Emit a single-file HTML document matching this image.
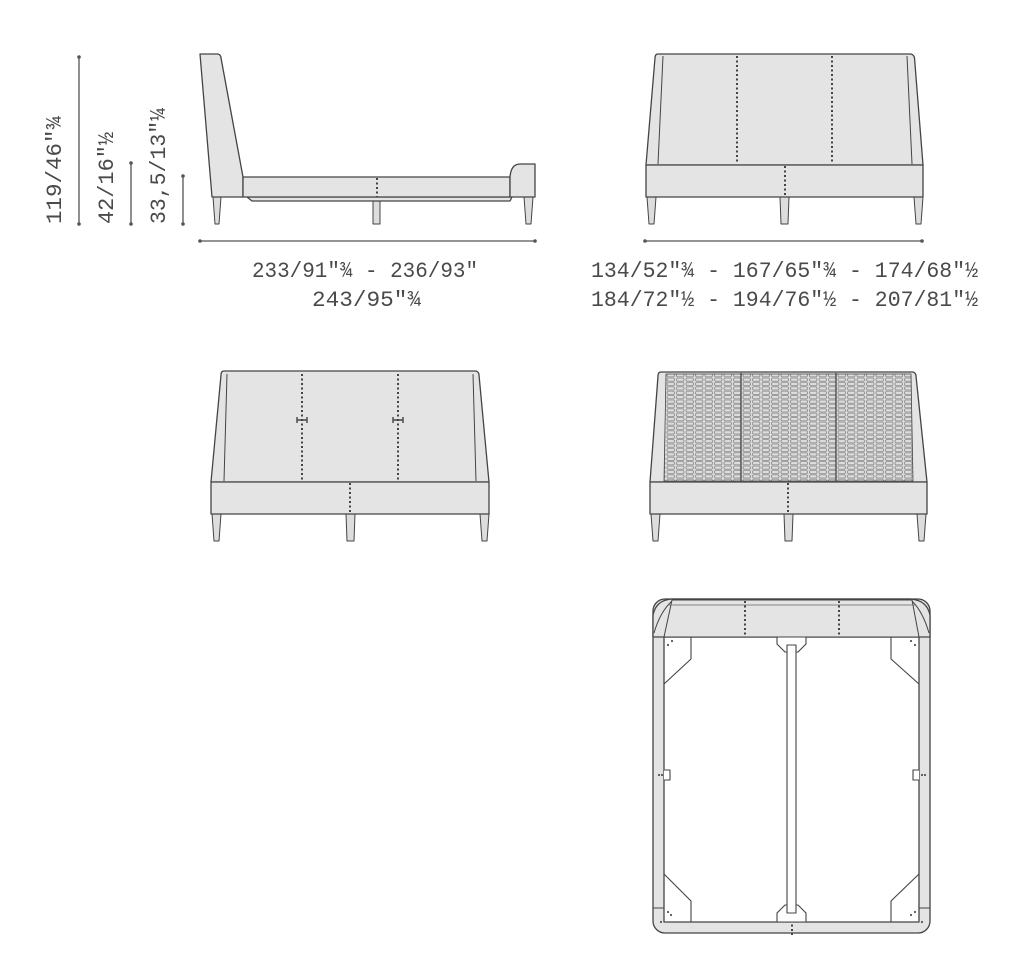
<!DOCTYPE html>
<html><head><meta charset="utf-8"><style>
html,body{margin:0;padding:0;background:#fff;}
svg{display:block;}
text{font-family:"Liberation Mono","DejaVu Sans Mono",monospace;fill:#4a4a4a;font-size:22px;}
</style></head><body>
<svg width="1024" height="978" viewBox="0 0 1024 978" xmlns="http://www.w3.org/2000/svg">
<defs>
<pattern id="mesh" x="666" y="373" width="9.5" height="4.4" patternUnits="userSpaceOnUse">
<rect width="9.5" height="4.4" fill="#dcdcdc"/>
<rect x="1" y="0.6" width="7.5" height="3.2" rx="1.5" fill="none" stroke="#888" stroke-width="0.8"/>
</pattern>
</defs>
<g stroke="#444" stroke-width="1.3" fill="#e4e4e4" stroke-linejoin="round">

<!-- ===== Side view ===== -->
<line x1="79" y1="57" x2="79" y2="224" stroke="#555" fill="none"/>
<circle cx="79" cy="57" r="1.8" fill="#555" stroke="none"/><circle cx="79" cy="224" r="1.8" fill="#555" stroke="none"/>
<line x1="131" y1="163" x2="131" y2="224" stroke="#555"/>
<circle cx="131" cy="163" r="1.8" fill="#555" stroke="none"/><circle cx="131" cy="224" r="1.8" fill="#555" stroke="none"/>
<line x1="183" y1="176" x2="183" y2="224" stroke="#555"/>
<circle cx="183" cy="176" r="1.8" fill="#555" stroke="none"/><circle cx="183" cy="224" r="1.8" fill="#555" stroke="none"/>
<line x1="200" y1="241" x2="535" y2="241" stroke="#555"/>
<circle cx="200" cy="241" r="1.8" fill="#555" stroke="none"/><circle cx="535" cy="241" r="1.8" fill="#555" stroke="none"/>

<g fill="#ddd" stroke-width="1">
<path d="M213 197 L221 197 L219 224 L215 224 Z"/>
<path d="M373 201 L380 201 L380 224 L373 224 Z"/>
<path d="M524 197 L533 197 L531 224 L526 224 Z"/>
</g>
<path d="M247 197 L512 197 L510 201 L252 201 Z"/>
<path d="M200 54 L218 54 Q221 55 221 58 L243 177 L243 197 L212 197 Z"/>
<rect x="243" y="177" width="267" height="20"/>
<path d="M510 177 Q511 164 520 164 L535 164 L535 197 L510 197 Z"/>
<line x1="377" y1="178" x2="377" y2="197" stroke-dasharray="2,2.5" stroke-width="2"/>

<!-- ===== Front view (top right) ===== -->
<g fill="#ddd" stroke-width="1">
<path d="M647 197 L656 197 L654 224 L649 224 Z"/>
<path d="M780 197 L789 197 L788 224 L781 224 Z"/>
<path d="M914 197 L923 197 L921 224 L916 224 Z"/>
</g>
<path d="M658 54 L911 54 Q914 55 914.5 58 L923 165 L646 165 L655 58 Q655 54 658 54 Z"/>
<path d="M663 56 L658 164 M907 56 L912 164" fill="none" stroke-width="1"/>
<rect x="646" y="165" width="277" height="32"/>
<line x1="737" y1="56" x2="737" y2="164" stroke-dasharray="2,2.5" stroke-width="2"/>
<line x1="832" y1="56" x2="832" y2="164" stroke-dasharray="2,2.5" stroke-width="2"/>
<line x1="785" y1="166" x2="785" y2="197" stroke-dasharray="2,2.5" stroke-width="2"/>
<line x1="645" y1="241" x2="922" y2="241" stroke="#555"/>
<circle cx="645" cy="241" r="1.8" fill="#555" stroke="none"/><circle cx="922" cy="241" r="1.8" fill="#555" stroke="none"/>

<!-- ===== Back view (mid left) ===== -->
<g fill="#ddd" stroke-width="1">
<path d="M212 514 L221 514 L219 541 L214 541 Z"/>
<path d="M346 514 L355 514 L354 541 L347 541 Z"/>
<path d="M480 514 L489 514 L487 541 L482 541 Z"/>
</g>
<path d="M224 371 L476 371 Q479 372 479 375 L489 482 L211 482 L221 375 Q221 371 224 371 Z"/>
<path d="M227 374 L224 481 M473 374 L476 481" fill="none" stroke-width="1"/>
<rect x="211" y="482" width="278" height="32"/>
<line x1="302" y1="374" x2="302" y2="481" stroke-dasharray="2,2.5" stroke-width="2"/>
<line x1="398" y1="374" x2="398" y2="481" stroke-dasharray="2,2.5" stroke-width="2"/>
<line x1="350" y1="483" x2="350" y2="514" stroke-dasharray="2,2.5" stroke-width="2"/>
<path d="M297 420 L307 420 M297 417 L297 423 M307 417 L307 423 M393 420 L403 420 M393 417 L393 423 M403 417 L403 423" fill="none" stroke-width="1.4"/>

<!-- ===== Mesh view ===== -->
<g fill="#ddd" stroke-width="1">
<path d="M651 514 L660 514 L658 541 L653 541 Z"/>
<path d="M784 514 L793 514 L792 541 L785 541 Z"/>
<path d="M917 514 L926 514 L924 541 L919 541 Z"/>
</g>
<path d="M661 372 L913 372 Q916 373 916 376 L927 482 L650 482 L658 376 Q658 372 661 372 Z"/>
<path d="M666 374 L664 481 L913 481 L911 374 Z" fill="url(#mesh)" stroke-width="0.8"/>
<line x1="741" y1="373" x2="741" y2="481" stroke-width="1.3"/>
<line x1="836" y1="373" x2="836" y2="481" stroke-width="1.3"/>
<rect x="650" y="482" width="277" height="32"/>
<line x1="788" y1="483" x2="788" y2="514" stroke-dasharray="2,2.5" stroke-width="2"/>

<!-- ===== Plan view ===== -->
<rect x="653" y="599" width="277" height="334" rx="12" ry="12"/>
<rect x="664" y="637" width="255" height="285" fill="#fff"/>
<path d="M653 637 L653 615 Q656 600 672 599 L910 599 Q927 600 930 615 L930 637 Z" fill="#e4e4e4"/>
<path d="M672 600 L912 600 L919 637 L664 637 Z" fill="#e4e4e4" stroke-width="1"/>
<path d="M672 601 Q660 612 654 633 M912 601 Q923 612 929 633" fill="none" stroke-width="1"/>
<line x1="668" y1="605" x2="915" y2="605" stroke-width="0.8" stroke="#666"/>
<line x1="745" y1="601" x2="745" y2="636" stroke-dasharray="2,2.5" stroke-width="2"/>
<line x1="839" y1="601" x2="839" y2="636" stroke-dasharray="2,2.5" stroke-width="2"/>
<line x1="653" y1="908" x2="664" y2="908" stroke-width="1"/>
<line x1="919" y1="908" x2="930" y2="908" stroke-width="1"/>
<line x1="792" y1="920" x2="792" y2="935" stroke-dasharray="2,2.5" stroke-width="2"/>
<g fill="#fff" stroke-width="1.1">
<path d="M691 637 L691 659 L664 684"/>
<path d="M891 637 L891 659 L919 684"/>
<path d="M664 874 L691 901 L691 922"/>
<path d="M919 874 L891 901 L891 922"/>
<path d="M777 637 L777 644 L785 652 L798 652 L806 644 L806 637 Z"/>
<path d="M777 922 L777 913 L785 905 L798 905 L806 913 L806 922 Z"/>
<rect x="787" y="645" width="9" height="268"/>
<path d="M664 770 L670 770 L670 780 L664 780" />
<path d="M919 770 L913 770 L913 780 L919 780" />
</g>
<g fill="#555" stroke="none">
<circle cx="672" cy="641" r="1.1"/><circle cx="668" cy="645" r="1.1"/>
<circle cx="911" cy="641" r="1.1"/><circle cx="915" cy="645" r="1.1"/>
<circle cx="668" cy="912" r="1.1"/><circle cx="671" cy="915" r="1.1"/>
<circle cx="915" cy="912" r="1.1"/><circle cx="911" cy="915" r="1.1"/>
<circle cx="659" cy="775" r="1.1"/><circle cx="662" cy="775" r="1.1"/>
<circle cx="922" cy="775" r="1.1"/><circle cx="925" cy="775" r="1.1"/>
<circle cx="661" cy="922" r="1.1"/><circle cx="922" cy="922" r="1.1"/>
</g>
</g>

<!-- texts -->
<text transform="translate(61,224) rotate(-90)" textLength="108" lengthAdjust="spacingAndGlyphs">119/46"¾</text>
<text transform="translate(113,224) rotate(-90)" textLength="92" lengthAdjust="spacingAndGlyphs">42/16"½</text>
<text transform="translate(165,224) rotate(-90)" textLength="116" lengthAdjust="spacingAndGlyphs">33,5/13"¼</text>
<text x="252" y="277" textLength="226" lengthAdjust="spacingAndGlyphs">233/91"¾ - 236/93"</text>
<text x="312" y="306" textLength="109" lengthAdjust="spacingAndGlyphs">243/95"¾</text>
<text x="591" y="277" textLength="387" lengthAdjust="spacingAndGlyphs">134/52"¾ - 167/65"¾ - 174/68"½</text>
<text x="591" y="306" textLength="387" lengthAdjust="spacingAndGlyphs">184/72"½ - 194/76"½ - 207/81"½</text>
</svg>
</body></html>
